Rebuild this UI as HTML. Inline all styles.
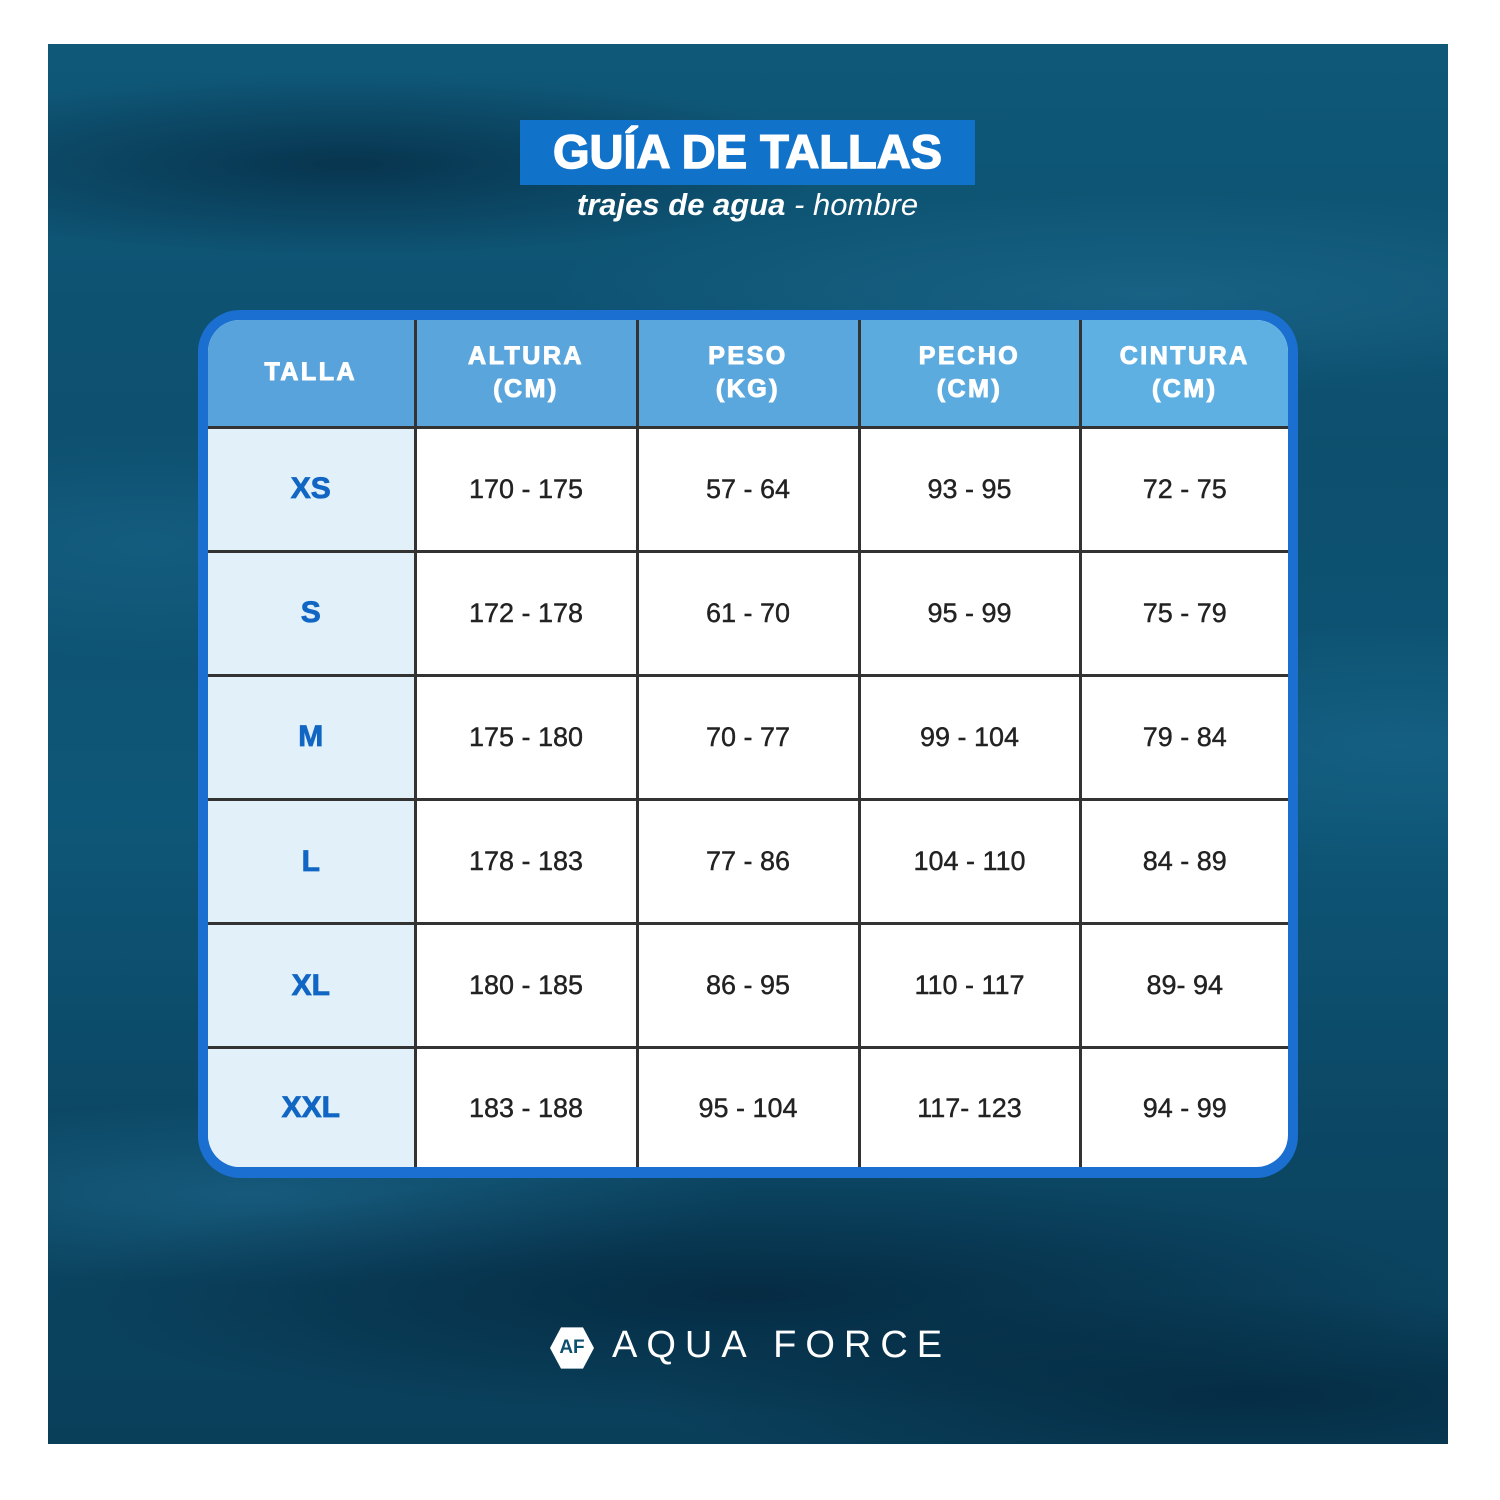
<!DOCTYPE html>
<html><head><meta charset="utf-8"><style>
*{margin:0;padding:0;box-sizing:border-box}
body{width:1500px;height:1500px;background:#fff;position:relative;overflow:hidden;font-family:"Liberation Sans",sans-serif}
#bg{position:absolute;left:48px;top:44px;width:1400px;height:1400px;
background:
radial-gradient(ellipse 500px 90px at 300px 120px,rgba(0,20,40,.5),transparent),
radial-gradient(ellipse 600px 100px at 1100px 250px,rgba(40,120,160,.4),transparent),
radial-gradient(ellipse 700px 120px at 700px 1250px,rgba(0,20,40,.5),transparent),
radial-gradient(ellipse 500px 90px at 200px 1150px,rgba(40,120,160,.4),transparent),
radial-gradient(ellipse 600px 100px at 1200px 1350px,rgba(0,25,45,.5),transparent),
radial-gradient(ellipse 400px 120px at 100px 500px,rgba(30,110,150,.4),transparent),
radial-gradient(ellipse 400px 120px at 1350px 700px,rgba(30,110,150,.4),transparent),
linear-gradient(180deg,#0f5878 0%,#0d4f6e 30%,#0e5677 55%,#0b4663 80%,#0a3f5a 100%);}
.tbox{position:absolute;left:520px;top:120px;width:455px;height:65px;background:#1172c9}
.title{position:absolute;left:520px;top:124px;width:455px;text-align:center;color:#fff;font-weight:bold;font-size:47px;-webkit-text-stroke:1.5px #fff}
.sub{position:absolute;left:520px;top:187px;width:455px;text-align:center;color:#fff;font-size:31px;font-style:italic}
.frame{position:absolute;left:198px;top:310px;width:1100px;height:868px;background:#1a6fd0;border-radius:42px}
.inner{position:absolute;left:208px;top:320px;width:1080px;height:847px;border-radius:32px;overflow:hidden;background:#fff}
table{border-collapse:collapse;width:1080px;height:847px;table-layout:fixed}
td,th{border:3px solid #333;text-align:center;vertical-align:middle}
tr:first-child th{border-top:none}
tr:last-child td{border-bottom:none}
td:first-child,th:first-child{border-left:none}
td:last-child,th:last-child{border-right:none}
th{height:107px;color:#fff;font-size:25px;letter-spacing:2.5px;line-height:33px;font-weight:bold;-webkit-text-stroke:1px #fff}
td{font-size:27px;color:#222;-webkit-text-stroke:0.4px #222}
td.s{background:#e2f0fa;color:#1166c3;font-weight:bold;font-size:30px;-webkit-text-stroke:0.8px #1166c3}
.logo{position:absolute;left:550px;top:1326px;width:44px;height:44px;background:#fff;clip-path:polygon(25% 3%,75% 3%,100% 50%,75% 97%,25% 97%,0 50%);color:#0d4f6e;font-weight:bold;font-size:19px;text-align:center;line-height:44px}
.brand{position:absolute;left:612px;top:1324px;color:#fff;font-size:38px;letter-spacing:9px}
</style></head><body>
<div id="bg"></div>
<div class="tbox"></div>
<div class="title">GUÍA DE TALLAS</div>
<div class="sub"><b>trajes de agua</b> - hombre</div>
<div class="frame"></div>
<div class="inner"><table>
<colgroup><col style="width:207px"><col style="width:222px"><col style="width:222px"><col style="width:221px"><col style="width:208px"></colgroup>
<tr><th style="background:#58a3db">TALLA</th><th style="background:#59a5dc">ALTURA<br>(CM)</th><th style="background:#5aa7dd">PESO<br>(KG)</th><th style="background:#5babdf">PECHO<br>(CM)</th><th style="background:#5db0e1">CINTURA<br>(CM)</th></tr>
<tr><td class="s">XS</td><td>170 - 175</td><td>57 - 64</td><td>93 - 95</td><td>72 - 75</td></tr>
<tr><td class="s">S</td><td>172 - 178</td><td>61 - 70</td><td>95 - 99</td><td>75 - 79</td></tr>
<tr><td class="s">M</td><td>175 - 180</td><td>70 - 77</td><td>99 - 104</td><td>79 - 84</td></tr>
<tr><td class="s">L</td><td>178 - 183</td><td>77 - 86</td><td>104 - 110</td><td>84 - 89</td></tr>
<tr><td class="s">XL</td><td>180 - 185</td><td>86 - 95</td><td>110 - 117</td><td>89- 94</td></tr>
<tr><td class="s">XXL</td><td>183 - 188</td><td>95 - 104</td><td>117- 123</td><td>94 - 99</td></tr>
</table></div>
<div class="logo">AF</div>
<div class="brand">AQUA FORCE</div>
</body></html>
